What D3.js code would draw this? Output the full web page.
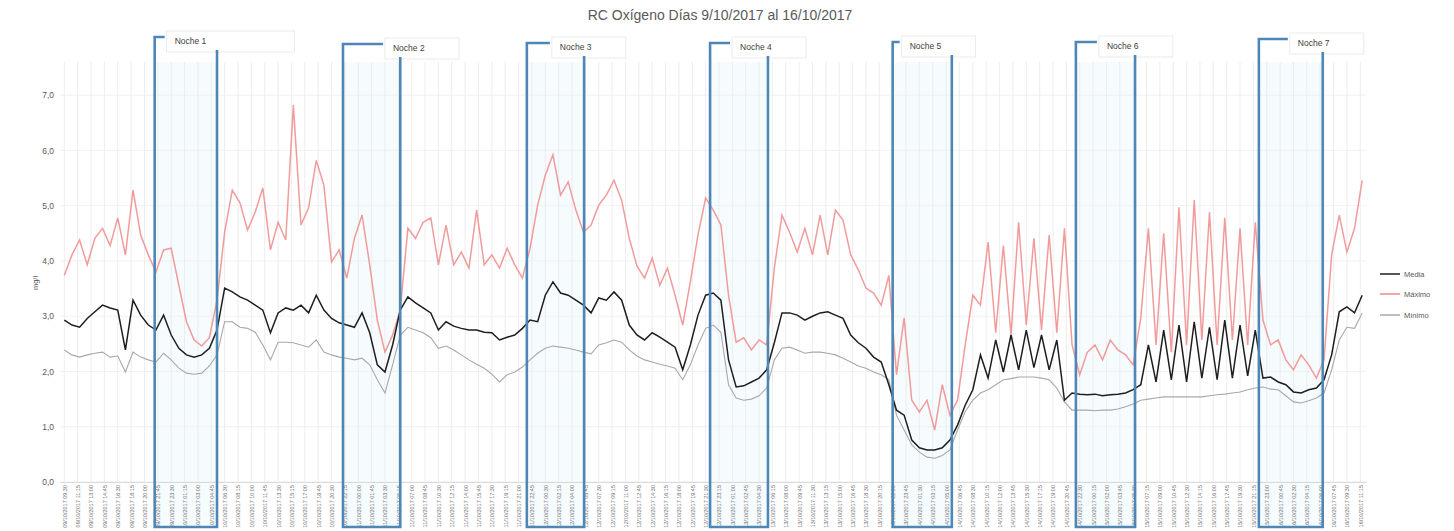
<!DOCTYPE html>
<html><head><meta charset="utf-8">
<script src="https://cdn.jsdelivr.net/npm/d3@7"></script>
<style>body{margin:0;background:#fff} svg{display:block} text{font-family:"Liberation Sans",Arial,sans-serif}</style>
</head><body><svg id="c" width="1454" height="531"></svg>
<script>
const title = "RC Oxígeno Días 9/10/2017 al 16/10/2017";
const yLabel = "mg/l";
const startTime = new Date(2017, 9, 9, 9, 30);
const stepHours = 1;
const seriesNames = ["Media", "Máximo", "Mínimo"];
const media = [2.93,2.84,2.80,2.96,3.08,3.20,3.15,3.11,2.39,3.29,3.02,2.84,2.75,3.02,2.66,2.42,2.30,2.26,2.30,2.42,
2.75,3.51,3.44,3.35,3.29,3.20,3.11,2.70,3.06,3.15,3.11,3.20,3.06,3.38,3.11,2.96,2.88,2.84,2.80,3.06,
2.70,2.12,1.99,2.48,3.11,3.35,3.24,3.15,3.06,2.75,2.90,2.82,2.78,2.75,2.75,2.71,2.70,2.57,2.62,2.66,
2.78,2.93,2.90,3.38,3.62,3.42,3.38,3.29,3.20,3.06,3.33,3.29,3.44,3.29,2.84,2.66,2.57,2.70,2.62,2.53,
2.44,2.03,2.48,3.02,3.38,3.42,3.29,2.21,1.72,1.74,1.81,1.88,2.03,2.52,3.06,3.06,3.02,2.93,3.00,3.06,
3.08,3.02,2.96,2.66,2.52,2.42,2.26,2.17,1.76,1.30,1.21,0.76,0.62,0.58,0.58,0.62,0.76,1.03,1.39,1.67,
2.30,1.88,2.57,1.99,2.66,2.03,2.75,2.07,2.66,2.03,2.57,1.48,1.61,1.59,1.58,1.59,1.56,1.58,1.59,1.61,
1.67,1.76,2.48,1.81,2.75,1.85,2.84,1.81,2.90,1.88,2.80,1.85,2.93,1.88,2.84,1.92,2.75,1.88,1.90,1.81,
1.76,1.63,1.61,1.67,1.70,1.85,2.30,3.08,3.17,3.06,3.38];
const maximo = [3.74,4.11,4.38,3.93,4.41,4.59,4.28,4.78,4.11,5.28,4.47,4.11,3.80,4.20,4.23,3.56,2.90,2.57,2.46,2.61,
3.29,4.52,5.28,5.05,4.56,4.88,5.32,4.20,4.70,4.38,6.82,4.65,4.96,5.82,5.37,3.98,4.20,3.69,4.41,4.83,
3.93,2.93,2.35,2.66,3.11,4.59,4.41,4.70,4.78,3.93,4.65,3.93,4.16,3.87,4.92,3.93,4.11,3.87,4.23,3.93,
3.69,4.23,5.01,5.55,5.92,5.19,5.43,4.92,4.52,4.65,5.01,5.19,5.46,5.10,4.41,3.91,3.69,4.05,3.56,3.87,
3.38,2.84,3.62,4.47,5.14,4.92,4.65,3.38,2.53,2.61,2.39,2.57,2.48,3.87,4.83,4.52,4.16,4.59,4.11,4.83,
4.11,4.92,4.74,4.11,3.84,3.51,3.42,3.20,3.74,1.94,2.97,1.48,1.27,1.48,0.94,1.76,1.21,1.48,2.48,3.38,
3.20,4.34,2.70,4.28,2.66,4.70,2.84,4.41,2.75,4.47,2.70,4.59,2.48,1.94,2.35,2.48,2.21,2.57,2.39,2.30,
2.12,2.97,4.59,2.48,4.50,2.35,4.97,2.48,5.10,2.57,4.88,2.48,4.78,2.57,4.59,2.48,4.70,2.93,2.48,2.57,
2.21,2.03,2.30,2.12,1.88,2.21,4.11,4.83,4.16,4.59,5.46];
const minimo = [2.39,2.30,2.26,2.30,2.33,2.35,2.26,2.28,1.99,2.35,2.26,2.21,2.17,2.33,2.21,2.06,1.97,1.95,1.97,2.10,
2.30,2.90,2.90,2.80,2.78,2.71,2.48,2.21,2.53,2.53,2.52,2.48,2.44,2.57,2.35,2.30,2.26,2.24,2.21,2.24,
2.12,1.85,1.61,2.12,2.66,2.80,2.75,2.70,2.61,2.42,2.46,2.39,2.30,2.21,2.13,2.06,1.95,1.81,1.94,1.99,
2.08,2.21,2.33,2.42,2.46,2.44,2.42,2.39,2.35,2.32,2.48,2.52,2.57,2.53,2.39,2.28,2.21,2.17,2.13,2.10,
2.06,1.85,2.12,2.48,2.78,2.84,2.71,1.76,1.52,1.48,1.50,1.56,1.70,2.21,2.42,2.44,2.39,2.33,2.35,2.35,
2.33,2.30,2.24,2.17,2.10,2.06,1.99,1.94,1.85,1.21,0.94,0.67,0.54,0.45,0.43,0.48,0.58,0.94,1.27,1.48,
1.61,1.67,1.76,1.85,1.87,1.90,1.90,1.90,1.88,1.85,1.70,1.45,1.30,1.30,1.30,1.29,1.30,1.30,1.32,1.36,
1.41,1.48,1.50,1.52,1.54,1.54,1.54,1.54,1.54,1.54,1.56,1.58,1.59,1.61,1.63,1.67,1.70,1.72,1.68,1.67,
1.56,1.45,1.43,1.47,1.52,1.61,2.03,2.57,2.80,2.78,3.06];
const yTicks = [0,1,2,3,4,5,6,7];
const labelStepMinutes = 105;
const nightNames = ["Noche 1","Noche 2","Noche 3","Noche 4","Noche 5","Noche 6","Noche 7"];
const nightStart = ["2017-10-09T21:20","2017-10-10T22:00","2017-10-11T22:05","2017-10-12T22:05","2017-10-13T22:00","2017-10-14T22:00","2017-10-15T21:58"];
const nightEnd   = ["2017-10-10T05:30","2017-10-11T05:30","2017-10-12T05:35","2017-10-13T05:40","2017-10-14T05:45","2017-10-15T05:45","2017-10-16T06:20"];

const svg = d3.select("#c");
const times = media.map((_, i) => d3.timeHour.offset(startTime, i * stepHours));
const x = d3.scaleTime().domain([new Date(2017,9,9,8,56), new Date(2017,9,16,12,0)]).range([60, 1366]);
const y = d3.scaleLinear().domain([0, 7.6]).range([482, 62]);
const parse = d3.timeParse("%Y-%m-%dT%H:%M");

const labelTimes = [];
for (let t = startTime; t <= x.domain()[1]; t = d3.timeMinute.offset(t, labelStepMinutes)) labelTimes.push(t);

const nights = nightNames.map((n, i) => ({name: n, s: parse(nightStart[i]), e: parse(nightEnd[i])}));
svg.append("g").selectAll("rect").data(nights).join("rect")
  .attr("x", d => x(d.s)).attr("width", d => x(d.e) - x(d.s))
  .attr("y", 62).attr("height", 465).attr("fill", "#f6fcfe");

// gridlines
svg.append("g").selectAll("line").data(labelTimes).join("line")
  .attr("x1", d => x(d)).attr("x2", d => x(d)).attr("y1", 62).attr("y2", 482)
  .attr("stroke", "#e9e9e9").attr("stroke-width", 0.8);
svg.append("g").selectAll("line").data(yTicks).join("line")
  .attr("x1", 60).attr("x2", 1366).attr("y1", d => y(d)).attr("y2", d => y(d))
  .attr("stroke", "#ededed").attr("stroke-width", 0.8);

// y axis
const yAxis = d3.axisLeft(y).tickValues(yTicks).tickSize(0).tickPadding(6)
  .tickFormat(d => d3.format(".1f")(d).replace(".", ","));
const ya = svg.append("g").attr("transform", "translate(60,0)").call(yAxis);
ya.select(".domain").remove();
ya.selectAll("text").attr("font-size", 8.5).attr("fill", "#595959").attr("font-family", "Liberation Sans, Arial, sans-serif");

// x axis
const xAxis = d3.axisBottom(x).tickValues(labelTimes).tickSize(0)
  .tickFormat(d3.timeFormat("%d/%m/%Y %H:%M"));
const xa = svg.append("g").attr("transform", "translate(0,482)").call(xAxis);
xa.select(".domain").attr("stroke", "#d9d9d9");
xa.selectAll("text").attr("font-size", 5.5).attr("fill", "#6f6f6f")
  .attr("font-family", "Liberation Sans, Arial, sans-serif")
  .attr("transform", "rotate(-90)").attr("text-anchor", "end")
  .attr("x", -3).attr("y", 0).attr("dy", "0.35em");

// lines
const line = arr => d3.line().x((d, i) => x(times[i])).y(d => y(d))(arr);
svg.append("path").attr("d", line(maximo)).attr("fill", "none").attr("stroke", "#f08a8a").attr("stroke-width", 1.5).attr("stroke-opacity", 0.85);
svg.append("path").attr("d", line(minimo)).attr("fill", "none").attr("stroke", "#a8a8a8").attr("stroke-width", 1.1);
svg.append("path").attr("d", line(media)).attr("fill", "none").attr("stroke", "#1e1e1e").attr("stroke-width", 1.5);

// night brackets
const textDx = [20, 50, 33, 30, 17, 31, 39];
const textY = [44, 51, 50, 50, 49, 49, 46];
const bg = svg.append("g");
nights.forEach((d, i) => {
  const L = x(d.s), R = x(d.e), ty = textY[i];
  const g = bg.append("g");
  g.append("rect").attr("x", L + textDx[i] - 8).attr("y", ty - 13).attr("width", i === 0 ? 128 : 74).attr("height", 21)
    .attr("fill", "#fff").attr("stroke", "#e6e6e6").attr("stroke-width", 0.8);
  g.append("text").attr("x", L + textDx[i]).attr("y", ty).attr("font-size", 8.5).attr("fill", "#404040").text(d.name);
  g.append("path").attr("d", `M${L + textDx[i] - 10},${ty - 7}H${L}V527H${R}V${ty + 6}`)
    .attr("fill", "none").attr("stroke", "#4e87b6").attr("stroke-width", 2.6);
});

// title
svg.append("text").attr("x", 720).attr("y", 20).attr("text-anchor", "middle")
  .attr("font-size", 14).attr("fill", "#595959").text(title);
// y label
svg.append("text").attr("transform", "translate(38,283) rotate(-90)").attr("text-anchor", "middle")
  .attr("font-size", 7.5).attr("fill", "#595959").text(yLabel);

// legend
const legColors = ["#1e1e1e", "#f08a8a", "#a8a8a8"];
const legY = [274, 294, 315];
const lg = svg.append("g");
seriesNames.forEach((n, i) => {
  lg.append("line").attr("x1", 1380).attr("x2", 1400).attr("y1", legY[i]).attr("y2", legY[i])
    .attr("stroke", legColors[i]).attr("stroke-width", 1.5);
  lg.append("text").attr("x", 1404).attr("y", legY[i] + 2.5).attr("font-size", 7.5).attr("fill", "#595959").text(n);
});
</script></body></html>
